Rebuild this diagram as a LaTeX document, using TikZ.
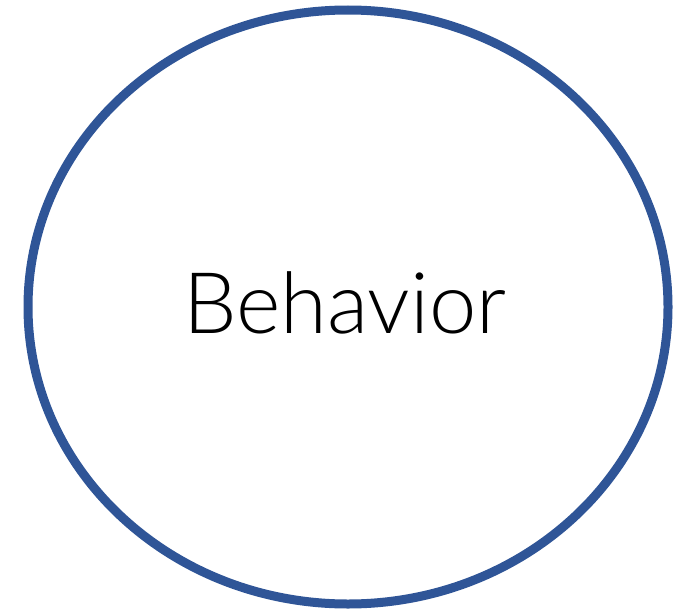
\documentclass[tikz,border=0pt]{standalone}
\usepackage{fontspec}
\setmainfont{Lato Light}
\definecolor{ringblue}{RGB}{47,85,151}
\tikzset{ring/.style={draw=ringblue,line width=9pt}}
\begin{document}
\begin{tikzpicture}[x=1pt,y=-1pt]
\useasboundingbox (0,0) rectangle (674,610);
\draw[ring] (348,307) ellipse [x radius=320, y radius=297];
\node[anchor=base,inner sep=0pt,font=\fontsize{85}{95}\selectfont] (lbl) at (345,333) {Behavior};
\end{tikzpicture}
\end{document}
